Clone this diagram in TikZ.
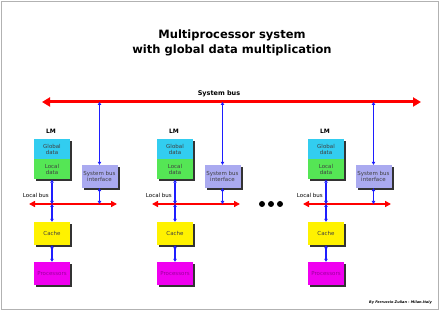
\documentclass[tikz,border=0pt]{standalone}
\usepackage{fontspec}
\setmainfont{DejaVu Sans}
\usetikzlibrary{arrows.meta,shadows}
\definecolor{globcol}{RGB}{50,205,240}
\definecolor{loccol}{RGB}{85,230,85}
\definecolor{sbicol}{RGB}{170,170,240}
\definecolor{proccol}{RGB}{240,0,240}
\definecolor{busred}{RGB}{255,0,0}
\definecolor{linkblue}{RGB}{30,30,255}
\begin{document}
\begin{tikzpicture}[x=1pt,y=-1pt,
  box/.style={minimum width=36pt, minimum height=20pt, inner sep=0pt, align=center,
    font=\fontsize{5.5}{6.5}\selectfont, text=black!75,
    drop shadow={shadow xshift=2pt, shadow yshift=-2pt, fill=black!80, opacity=1}},
  bus/.style={busred, line width=3pt, {Triangle[length=8pt,width=9pt]}-{Triangle[length=8pt,width=9pt]}},
  link/.style={linkblue, line width=1.2pt, {Triangle[length=3pt,width=3.5pt]}-{Triangle[length=3pt,width=3.5pt]}},
  lbl/.style={font=\fontsize{5.5}{6.5}\selectfont, inner sep=0pt}]
\useasboundingbox (0,0) rectangle (440,312);
\draw[black!30, line width=0.8pt] (1,1) rectangle (438,309);
\node[align=center, font=\bfseries\fontsize{11.5}{15}\selectfont] (title) at (232,43) {Multiprocessor system\\with global data multiplication};
\coordinate (sbl) at (42,102);
\coordinate (sbr) at (421,102);
\draw[bus] (sbl) -- (sbr);
\node[lbl, font=\bfseries\fontsize{6.5}{7.5}\selectfont] (sblabel) at (219,94) {System bus};
\foreach \c/\o in {1/0,2/123,3/274} {
\node[lbl, font=\bfseries\fontsize{6}{7}\selectfont] (lm\c) at (51+\o,131) {LM};
\node[box, fill=globcol] (glob\c) at (52+\o,149.5) {Global\\data};
\node[box, fill=loccol] (loc\c) at (52+\o,169.5) {Local\\data};
\node[box, fill=sbicol, minimum height=23pt] (sbi\c) at (99.5+\o,176.5) {System bus\\interface};
\node[box, fill=yellow, minimum height=23pt] (cache\c) at (52+\o,233.5) {Cache};
\node[box, fill=proccol, minimum height=23pt, text=black!35!proccol] (proc\c) at (52+\o,273.5) {Processors};
\node[lbl, anchor=east] (lblabel\c) at (49+\o,195) {Local bus};
\coordinate (lbl\c) at (29+\o,204);
\coordinate (lbr\c) at (117+\o,204);
\coordinate (lbm\c) at (52+\o,204);
\coordinate (lbs\c) at (99.5+\o,204);
\coordinate (sb\c) at (99.5+\o,102);
\draw[bus, line width=2pt, {Triangle[length=6pt,width=6pt]}-{Triangle[length=6pt,width=6pt]}] (lbl\c) -- (lbr\c);
\draw[link] (sb\c) -- (sbi\c.north);
\draw[link] (sbi\c.south) -- (lbs\c);
\draw[link] (loc\c.south) -- (lbm\c);
\draw[link] (lbm\c) -- (cache\c.north);
\draw[link] (cache\c.south) -- (proc\c.north);
}
\foreach \x in {262,271,280} {
\fill (\x,204) circle (3pt);
}
\node[lbl, anchor=east, font=\bfseries\itshape\fontsize{3.5}{4}\selectfont] (credit) at (432,303) {By Ferruccio Zulian - Milan.Italy};
\end{tikzpicture}
\end{document}
